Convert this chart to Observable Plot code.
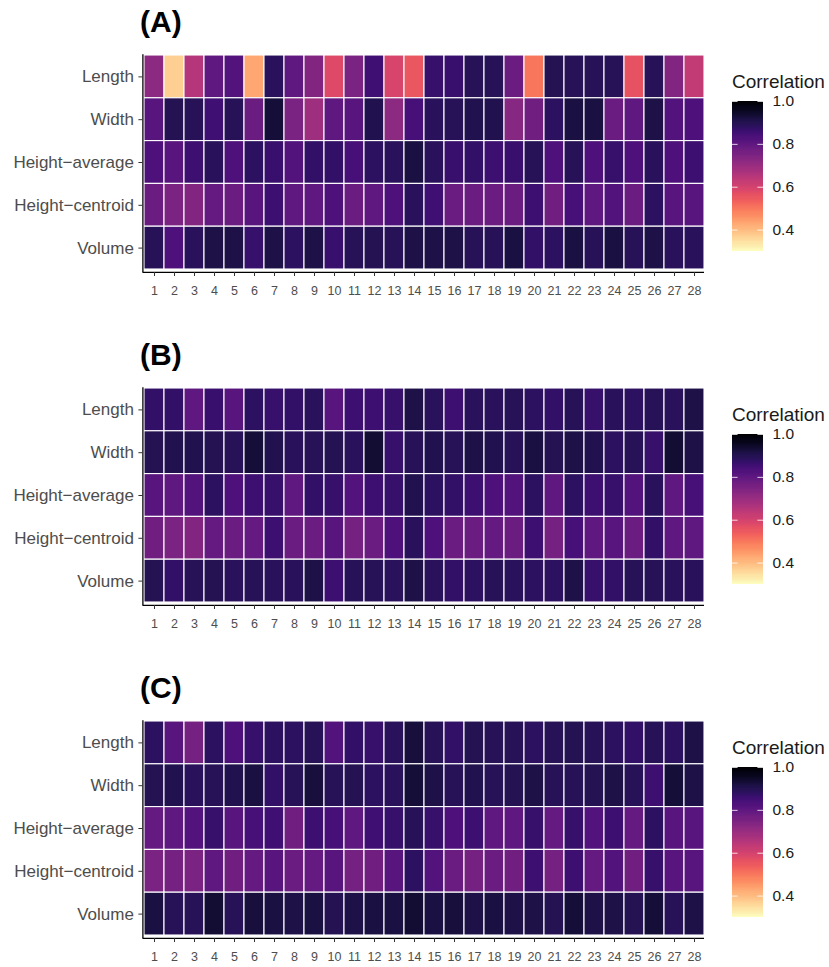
<!DOCTYPE html>
<html>
<head>
<meta charset="utf-8">
<script src="https://cdn.jsdelivr.net/npm/d3@7"></script>
<script src="https://cdn.jsdelivr.net/npm/@observablehq/plot@0.6"></script>
<style>
  body { margin: 0; background: white; }
  #wrap { position: relative; width: 829px; height: 967px; font-family: "Liberation Sans", Arial, sans-serif; background: white; overflow: hidden; }
  .abs { position: absolute; }
  .title { font-weight: bold; font-size: 30px; line-height: 34px; color: #000; }
  .ltitle { font-size: 19px; line-height: 22px; color: #1a1a1a; }
</style>
</head>
<body>
<div id="wrap"></div>
<script>
// ---- categories / tick labels ----
const cols = [1,2,3,4,5,6,7,8,9,10,11,12,13,14,15,16,17,18,19,20,21,22,23,24,25,26,27,28];
const rows = ["Length", "Width", "Height\u2212average", "Height\u2212centroid", "Volume"];
const panelTitles = ["(A)", "(B)", "(C)"];
const legendTitle = "Correlation";
const legendTicks = [0.4, 0.6, 0.8, 1.0];
const colorDomain = [0.3, 1.0];

// ---- panel A ----
const A_length = [0.72,0.37,0.65,0.80,0.82,0.43,0.886,0.80,0.74,0.58,0.75,0.85,0.59,0.55,0.868,0.862,0.892,0.892,0.78,0.50,0.898,0.892,0.892,0.892,0.56,0.892,0.74,0.63];
const A_width  = [0.81,0.898,0.892,0.85,0.892,0.78,0.928,0.75,0.69,0.80,0.81,0.904,0.72,0.84,0.886,0.892,0.904,0.904,0.73,0.77,0.88,0.916,0.916,0.78,0.80,0.91,0.82,0.83];
const A_havg   = [0.83,0.81,0.856,0.886,0.83,0.88,0.862,0.82,0.874,0.874,0.84,0.88,0.886,0.916,0.886,0.862,0.874,0.856,0.862,0.892,0.83,0.892,0.83,0.868,0.83,0.886,0.83,0.856];
const A_hcen   = [0.78,0.75,0.74,0.79,0.78,0.81,0.856,0.80,0.80,0.83,0.78,0.80,0.83,0.886,0.85,0.78,0.78,0.78,0.78,0.856,0.77,0.84,0.80,0.82,0.78,0.88,0.81,0.81];
const A_vol    = [0.892,0.83,0.886,0.91,0.91,0.868,0.91,0.88,0.91,0.862,0.892,0.898,0.892,0.91,0.91,0.91,0.892,0.892,0.916,0.874,0.88,0.916,0.892,0.916,0.892,0.91,0.886,0.886];
// ---- panel B ----
const B_length = [0.874,0.874,0.80,0.862,0.81,0.88,0.868,0.874,0.886,0.81,0.856,0.856,0.868,0.91,0.886,0.856,0.886,0.886,0.892,0.88,0.874,0.892,0.868,0.886,0.88,0.892,0.886,0.91];
const B_width  = [0.898,0.904,0.904,0.898,0.892,0.928,0.904,0.886,0.892,0.898,0.886,0.934,0.868,0.892,0.904,0.892,0.91,0.904,0.892,0.916,0.898,0.91,0.904,0.88,0.892,0.868,0.934,0.91];
const B_havg   = [0.81,0.80,0.82,0.88,0.83,0.856,0.868,0.80,0.874,0.868,0.82,0.856,0.868,0.904,0.88,0.874,0.856,0.83,0.82,0.88,0.80,0.88,0.856,0.868,0.82,0.886,0.80,0.84];
const B_hcen   = [0.77,0.75,0.74,0.79,0.78,0.79,0.856,0.78,0.78,0.81,0.76,0.78,0.83,0.886,0.83,0.78,0.78,0.79,0.78,0.856,0.76,0.84,0.80,0.81,0.78,0.874,0.80,0.80];
const B_vol    = [0.898,0.874,0.892,0.898,0.886,0.892,0.886,0.886,0.91,0.856,0.892,0.892,0.886,0.91,0.886,0.874,0.88,0.892,0.886,0.88,0.88,0.91,0.868,0.874,0.892,0.892,0.886,0.886];
// ---- panel C ----
const C_length = [0.88,0.81,0.76,0.88,0.83,0.868,0.88,0.88,0.892,0.82,0.874,0.868,0.886,0.922,0.892,0.874,0.898,0.892,0.892,0.88,0.892,0.898,0.892,0.88,0.874,0.892,0.88,0.91];
const C_width  = [0.898,0.904,0.886,0.892,0.904,0.916,0.874,0.892,0.922,0.892,0.898,0.88,0.886,0.928,0.91,0.892,0.904,0.892,0.898,0.91,0.892,0.892,0.898,0.91,0.892,0.856,0.928,0.91];
const C_havg   = [0.79,0.80,0.82,0.868,0.81,0.84,0.85,0.77,0.856,0.84,0.80,0.85,0.868,0.892,0.868,0.83,0.856,0.80,0.80,0.868,0.79,0.868,0.82,0.856,0.79,0.88,0.81,0.81];
const C_hcen   = [0.75,0.76,0.75,0.80,0.77,0.79,0.81,0.78,0.79,0.81,0.76,0.77,0.81,0.88,0.82,0.78,0.76,0.78,0.77,0.856,0.76,0.856,0.79,0.82,0.77,0.868,0.81,0.81];
const C_vol    = [0.916,0.892,0.892,0.934,0.892,0.922,0.916,0.91,0.916,0.898,0.91,0.916,0.916,0.934,0.916,0.922,0.91,0.916,0.91,0.91,0.898,0.928,0.91,0.91,0.898,0.928,0.892,0.91];

const panels = [
  [A_length, A_width, A_havg, A_hcen, A_vol],
  [B_length, B_width, B_havg, B_hcen, B_vol],
  [C_length, C_width, C_havg, C_hcen, C_vol]
];

const wrap = document.getElementById("wrap");
const FONT = '"Liberation Sans", Arial, sans-serif';
const tileTops = [55, 388, 721];
const colorScale = {type: "linear", scheme: "magma", reverse: true, domain: colorDomain};

function place(el, left, top) {
  el.classList.add("abs");
  el.style.left = left + "px";
  el.style.top = top + "px";
  wrap.appendChild(el);
}

panels.forEach((series, p) => {
  const top = tileTops[p];
  const data = [];
  series.forEach((vals, ri) => vals.forEach((v, ci) => data.push({r: ri + 1, c: cols[ci], v})));

  const t = document.createElement("div");
  t.className = "title";
  t.textContent = panelTitles[p];
  place(t, 140, top - 50);

  const chart = Plot.plot({
    width: 720, height: 260,
    marginLeft: 144, marginRight: 16, marginTop: 10, marginBottom: 36,
    style: {fontFamily: FONT, fontSize: "12px", color: "#4d4d4d", background: "transparent", overflow: "visible"},
    x: {type: "linear", domain: [0.5, 28.5]},
    y: {type: "linear", domain: [5.5, 0.5]},
    color: colorScale,
    marks: [
      Plot.rect(data, {x1: d => d.c - 0.5, x2: d => d.c + 0.5, y1: d => d.r - 0.5, y2: d => d.r + 0.5,
        fill: "v", stroke: "white", strokeWidth: 1.1}),
      Plot.ruleX([0.5], {y1: 0.48, y2: 5.57, dx: -1.6, stroke: "#000", strokeWidth: 1.3}),
      Plot.ruleY([5.5], {x1: 0.42, x2: 28.5, dy: 2.8, stroke: "#000", strokeWidth: 1.3}),
      Plot.axisX({ticks: cols, tickFormat: d => String(d), tickSize: 4, tickPadding: 10, dy: 3,
        fontSize: 12.5, fill: "#4d4d4d", stroke: "#333", label: null}),
      Plot.axisY({ticks: [1,2,3,4,5], tickFormat: d => rows[d - 1], tickSize: 4, tickPadding: 5, dx: -1.6,
        fontSize: 17, fill: "#4d4d4d", stroke: "#333", label: null})
    ]
  });
  place(chart, 0, top - 10);

  // legend
  const barTop = top + 46;
  const lt = document.createElement("div");
  lt.className = "ltitle";
  lt.textContent = legendTitle;
  place(lt, 732, barTop - 30);

  const steps = d3.range(colorDomain[0], colorDomain[1], 0.005);
  const leg = Plot.plot({
    width: 109, height: 164,
    marginLeft: 12, marginRight: 66, marginTop: 6, marginBottom: 8,
    style: {fontFamily: FONT, fontSize: "15.5px", color: "#1a1a1a", background: "transparent", overflow: "visible"},
    x: {domain: [0, 1], axis: null},
    y: {domain: colorDomain},
    color: colorScale,
    marks: [
      Plot.rect(steps, {x1: 0, x2: 1, y1: d => d, y2: d => Math.min(d + 0.006, colorDomain[1]), fill: d => d + 0.0025,
        shapeRendering: "crispEdges"}),
      Plot.ruleY(legendTicks, {x1: 0, x2: 0.18, stroke: "white", strokeOpacity: 0.8}),
      Plot.ruleY(legendTicks, {x1: 0.82, x2: 1, stroke: "white", strokeOpacity: 0.8}),
      Plot.axisY({anchor: "right", ticks: legendTicks, tickFormat: d => d.toFixed(1), tickSize: 0, tickPadding: 9,
        fontSize: 15.5, fill: "#1a1a1a", label: null})
    ]
  });
  place(leg, 720, barTop - 6);
});
</script>
</body>
</html>
